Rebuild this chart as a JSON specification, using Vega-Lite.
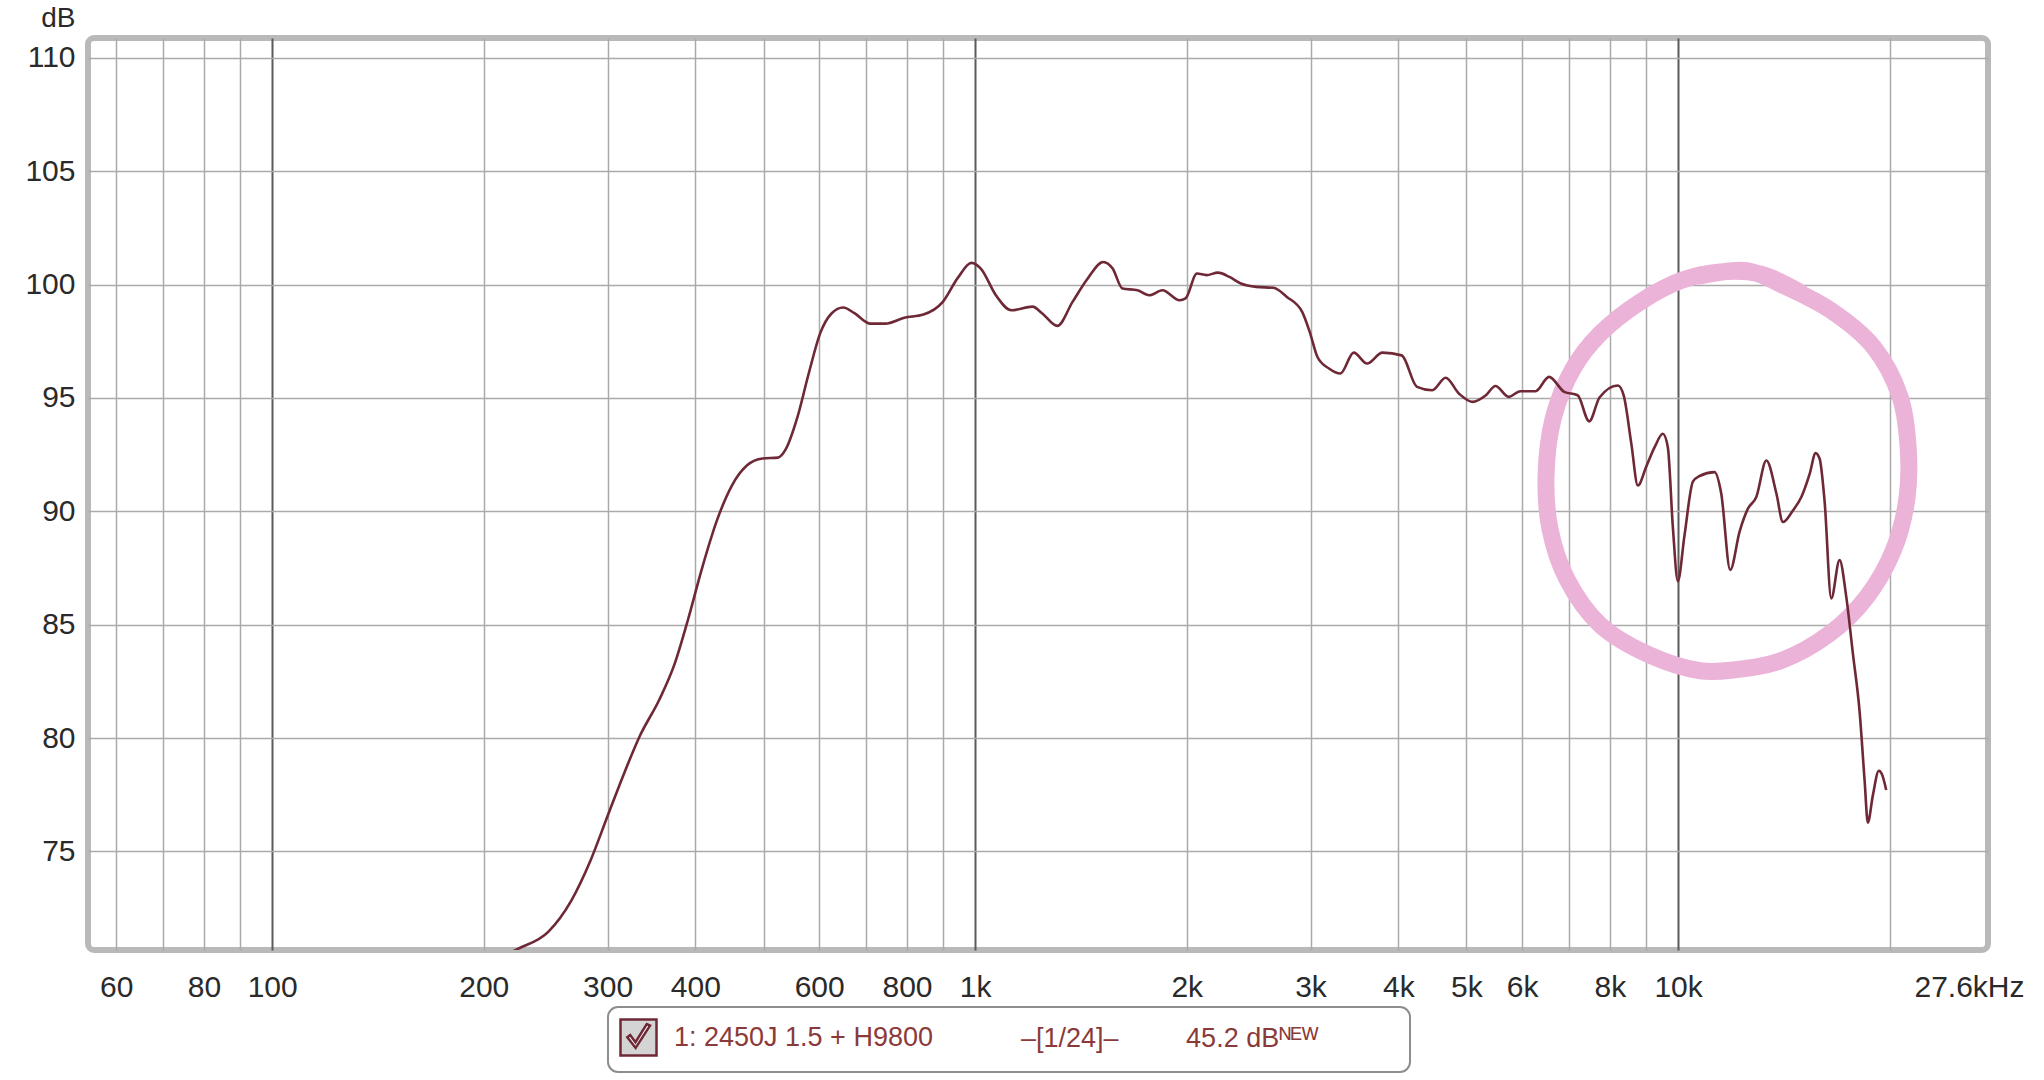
{
  "$schema": "https://vega.github.io/schema/vega-lite/v6.json",
  "width": 1900,
  "height": 912,
  "autosize": "none",
  "padding": {"left": 88, "top": 38, "right": 56, "bottom": 130},
  "background": "white",
  "config": {
    "view": {"stroke": "#b9b9b9", "strokeWidth": 6, "cornerRadius": 6},
    "font": "Liberation Sans"
  },
  "datasets": {
    "curve": [
      {"f": 214, "db": 70.4}, {"f": 223.6, "db": 70.7}, {"f": 247, "db": 71.45}, {"f": 266.4, "db": 72.83},
      {"f": 283.7, "db": 74.6}, {"f": 300.1, "db": 76.57}, {"f": 317.6, "db": 78.54}, {"f": 333.8, "db": 80.12},
      {"f": 355.5, "db": 81.7}, {"f": 373.7, "db": 83.27}, {"f": 390.6, "db": 85.24}, {"f": 408.1, "db": 87.41},
      {"f": 429, "db": 89.58}, {"f": 451, "db": 91.15}, {"f": 474.3, "db": 92.04}, {"f": 498.6, "db": 92.33},
      {"f": 524.3, "db": 92.37}, {"f": 537.6, "db": 92.73}, {"f": 558.2, "db": 94.11}, {"f": 579.8, "db": 96.08},
      {"f": 601.9, "db": 97.85}, {"f": 625.2, "db": 98.74}, {"f": 649, "db": 98.99}, {"f": 673.6, "db": 98.74},
      {"f": 708.5, "db": 98.28}, {"f": 745, "db": 98.28}, {"f": 793.1, "db": 98.54}, {"f": 844.2, "db": 98.68},
      {"f": 899, "db": 99.23}, {"f": 945.3, "db": 100.31}, {"f": 987.7, "db": 100.96}, {"f": 1018.8, "db": 100.71},
      {"f": 1071, "db": 99.52}, {"f": 1126, "db": 98.87}, {"f": 1207, "db": 99.03}, {"f": 1245, "db": 98.74},
      {"f": 1309, "db": 98.18}, {"f": 1376, "db": 99.24}, {"f": 1446, "db": 100.27}, {"f": 1521, "db": 101.0},
      {"f": 1569, "db": 100.71}, {"f": 1620, "db": 99.83}, {"f": 1702, "db": 99.75}, {"f": 1768, "db": 99.53},
      {"f": 1847, "db": 99.75}, {"f": 1954, "db": 99.31}, {"f": 1992, "db": 99.39}, {"f": 2068, "db": 100.49},
      {"f": 2134, "db": 100.42}, {"f": 2215, "db": 100.53}, {"f": 2301, "db": 100.34}, {"f": 2388, "db": 100.05},
      {"f": 2512, "db": 99.9}, {"f": 2657, "db": 99.86}, {"f": 2776, "db": 99.46}, {"f": 2919, "db": 98.8},
      {"f": 2992, "db": 97.92}, {"f": 3069, "db": 96.81}, {"f": 3187, "db": 96.3}, {"f": 3309, "db": 96.08},
      {"f": 3456, "db": 97.0}, {"f": 3611, "db": 96.52}, {"f": 3797, "db": 97.0}, {"f": 4044, "db": 96.88},
      {"f": 4252, "db": 95.49}, {"f": 4470, "db": 95.34}, {"f": 4670, "db": 95.89}, {"f": 4880, "db": 95.19},
      {"f": 5099, "db": 94.83}, {"f": 5329, "db": 95.12}, {"f": 5497, "db": 95.53}, {"f": 5743, "db": 95.05},
      {"f": 5964, "db": 95.3}, {"f": 6271, "db": 95.3}, {"f": 6553, "db": 95.93}, {"f": 6888, "db": 95.27},
      {"f": 7197, "db": 95.12}, {"f": 7475, "db": 93.97}, {"f": 7731, "db": 95.02}, {"f": 8211, "db": 95.55},
      {"f": 8370, "db": 95.1}, {"f": 8579, "db": 93.0}, {"f": 8766, "db": 91.14}, {"f": 9012, "db": 91.98},
      {"f": 9261, "db": 92.83}, {"f": 9515, "db": 93.42}, {"f": 9670, "db": 92.83}, {"f": 9832, "db": 89.28},
      {"f": 9993, "db": 86.92}, {"f": 10213, "db": 88.94}, {"f": 10498, "db": 91.31}, {"f": 10730, "db": 91.56},
      {"f": 11270, "db": 91.73}, {"f": 11517, "db": 90.8}, {"f": 11864, "db": 87.42}, {"f": 12233, "db": 89.11},
      {"f": 12571, "db": 90.12}, {"f": 12921, "db": 90.63}, {"f": 13353, "db": 92.24}, {"f": 13798, "db": 90.8},
      {"f": 14099, "db": 89.53}, {"f": 14568, "db": 90.04}, {"f": 14976, "db": 90.63}, {"f": 15389, "db": 91.65},
      {"f": 15693, "db": 92.57}, {"f": 15900, "db": 92.32}, {"f": 16159, "db": 90.46}, {"f": 16517, "db": 86.16},
      {"f": 16972, "db": 87.85}, {"f": 17348, "db": 86.24}, {"f": 17732, "db": 83.71}, {"f": 18124, "db": 81.17},
      {"f": 18423, "db": 78.13}, {"f": 18620, "db": 76.27}, {"f": 18926, "db": 77.46}, {"f": 19302, "db": 78.56},
      {"f": 19500, "db": 78.4}, {"f": 19774, "db": 77.71}
    ],
    "circle": [
      {"i": 1, "f": 10748, "db": 100.38}, {"i": 2, "f": 12530, "db": 100.62}, {"i": 3, "f": 13970, "db": 100.03},
      {"i": 4, "f": 16460, "db": 98.88}, {"i": 5, "f": 18960, "db": 97.26}, {"i": 6, "f": 20690, "db": 95.06},
      {"i": 7, "f": 21260, "db": 92.7}, {"i": 8, "f": 21150, "db": 90.5}, {"i": 9, "f": 20250, "db": 88.29},
      {"i": 10, "f": 18560, "db": 86.23}, {"i": 11, "f": 16460, "db": 84.62}, {"i": 12, "f": 13970, "db": 83.4},
      {"i": 13, "f": 11970, "db": 83.0}, {"i": 14, "f": 10750, "db": 82.97}, {"i": 15, "f": 9124, "db": 83.65},
      {"i": 16, "f": 7745, "db": 85.0}, {"i": 17, "f": 6946, "db": 87.02}, {"i": 18, "f": 6574, "db": 89.22},
      {"i": 19, "f": 6489, "db": 91.58}, {"i": 20, "f": 6646, "db": 94.12}, {"i": 21, "f": 7096, "db": 96.31},
      {"i": 22, "f": 7745, "db": 97.83}, {"i": 23, "f": 8829, "db": 99.23}, {"i": 24, "f": 10120, "db": 100.19},
      {"i": 25, "f": 11470, "db": 100.56}, {"i": 26, "f": 13080, "db": 100.47}, {"i": 27, "f": 14910, "db": 99.67}
    ]
  },
  "encoding": {
    "x": {
      "field": "f", "type": "quantitative",
      "scale": {"type": "log", "domain": [54.7, 27600], "nice": false},
      "axis": {
        "title": null,
        "values": [60, 70, 80, 90, 100, 200, 300, 400, 500, 600, 700, 800, 900, 1000, 2000, 3000, 4000, 5000, 6000, 7000, 8000, 9000, 10000, 20000, 27600],
        "labelExpr": "datum.value > 25000 ? '27.6kHz' : indexof([70,90,500,700,900,7000,9000,20000], datum.value) >= 0 ? '' : datum.value >= 1000 ? (datum.value/1000) + 'k' : '' + datum.value",
        "grid": true, "ticks": false, "domain": false,
        "labelFlush": false, "labelOverlap": false,
        "labelFontSize": 30, "labelColor": "#2a2a2a", "labelPadding": 22,
        "labelOffset": {"condition": {"test": "datum.value > 25000", "value": -19}, "value": 0},
        "gridColor": {"condition": {"test": "datum.value == 100 || datum.value == 1000 || datum.value == 10000", "value": "#5a5a5a"}, "value": "#aaaaaa"},
        "gridWidth": {"condition": {"test": "datum.value == 100 || datum.value == 1000 || datum.value == 10000", "value": 2}, "value": 1.5},
        "gridOpacity": {"condition": {"test": "datum.value > 25000", "value": 0}, "value": 1}
      }
    },
    "y": {
      "field": "db", "type": "quantitative",
      "scale": {"domain": [70.65, 110.88], "nice": false, "zero": false},
      "axis": {
        "title": "dB", "titleAngle": 0, "titleAlign": "right", "titleBaseline": "alphabetic",
        "titleX": -13, "titleY": -12, "titleFontSize": 28, "titleFontWeight": "normal", "titleColor": "#2a2a2a",
        "values": [75, 80, 85, 90, 95, 100, 105, 110],
        "grid": true, "ticks": false, "domain": false,
        "gridColor": "#aaaaaa", "gridWidth": 1.5,
        "labelFontSize": 30, "labelColor": "#2a2a2a", "labelPadding": 13
      }
    }
  },
  "layer": [
    {
      "data": {"name": "circle"},
      "mark": {"type": "line", "color": "#ebb3d8", "strokeWidth": 17, "strokeCap": "round", "interpolate": "catmull-rom", "clip": true},
      "encoding": {"order": {"field": "i", "type": "quantitative"}}
    },
    {
      "data": {"name": "curve"},
      "transform": [{"calculate": "'1: 2450J 1.5 + H9800'", "as": "series"}],
      "mark": {"type": "line", "strokeWidth": 2.6, "interpolate": "monotone", "clip": true},
      "encoding": {
        "color": {
          "field": "series", "type": "nominal",
          "scale": {"range": ["#6e2836"]},
          "legend": {
            "orient": "none", "legendX": 520, "legendY": 969, "direction": "horizontal",
            "padding": 11, "strokeColor": "#8e8e8e", "fillColor": "white", "cornerRadius": 10,
            "symbolType": "M-1,-1H1V1H-1Z M-0.62,-0.02L-0.16,0.58L0.64,-0.66L0.46,-0.74L-0.17,0.26L-0.46,-0.14Z",
            "symbolSize": 1296, "symbolStrokeWidth": 2.5,
            "labelFontSize": 27, "labelColor": "#8b3a3a", "labelOffset": 16, "labelLimit": 1000,
            "title": "–[1/24]–\u00a0\u00a0\u00a0\u00a0\u00a0\u00a0\u00a0\u00a0\u00a045.2 dBᴺᴱᵂ\u2800\u2800\u2800\u2800",
            "titleOrient": "right", "titleFontSize": 27, "titleFontWeight": "normal", "titleColor": "#8b3a3a",
            "titlePadding": 88, "titleLimit": 1000, "titleBaseline": "middle", "titleAnchor": "middle",
            "encode": {
              "legend": {"update": {"strokeWidth": {"value": 2}}},
              "symbols": {"update": {
                "stroke": {"value": "#2e2e2e"}, "fill": {"value": "#d4d4d4"}, "fillOpacity": {"value": 1},
                "strokeWidth": {"value": 2.5}, "opacity": {"value": 1},
                "shape": {"value": "M-1,-1H1V1H-1Z M-0.62,-0.02L-0.16,0.58L0.64,-0.66L0.46,-0.74L-0.17,0.26L-0.46,-0.14Z"},
                "size": {"value": 1296}
              }}
            }
          }
        }
      }
    }
  ]
}
